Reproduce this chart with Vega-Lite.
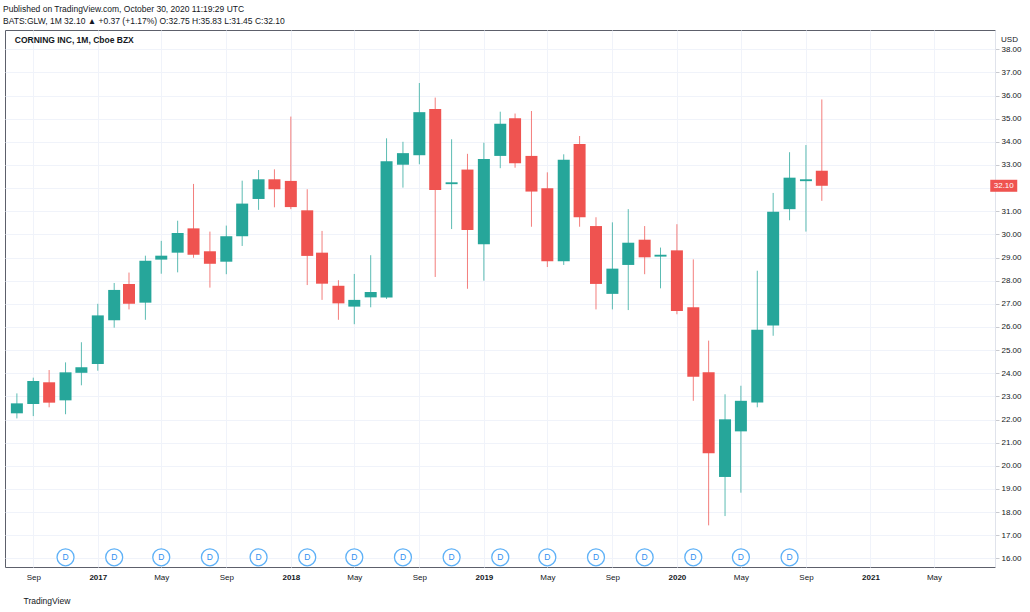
{
  "$schema": "https://vega.github.io/schema/vega-lite/v6.json",
  "width": 990,
  "height": 537,
  "autosize": {"type": "none"},
  "padding": {"left": 5, "top": 30, "right": 35, "bottom": 45},
  "background": "#ffffff",
  "title": {
    "text": "Published on TradingView.com, October 30, 2020 11:19:29 UTC",
    "subtitle": "BATS:GLW, 1M  32.10 ▲ +0.37 (+1.17%)  O:32.75  H:35.83  L:31.45  C:32.10",
    "anchor": "start",
    "frame": "group",
    "dx": -2,
    "offset": 5,
    "fontSize": 8.5,
    "fontWeight": "normal",
    "color": "#131722",
    "subtitleFontSize": 8.5,
    "subtitleColor": "#131722",
    "subtitlePadding": 3
  },
  "config": {
    "font": "Liberation Sans",
    "view": {"stroke": "#5d606b", "strokeWidth": 1},
    "text": {"font": "Liberation Sans"}
  },
  "data": {
    "values": [
      {"date": "2016-08-01", "open": 22.27, "high": 23.13, "low": 22.05, "close": 22.70},
      {"date": "2016-09-01", "open": 22.67, "high": 23.81, "low": 22.15, "close": 23.67},
      {"date": "2016-10-01", "open": 23.61, "high": 24.14, "low": 22.53, "close": 22.73},
      {"date": "2016-11-01", "open": 22.83, "high": 24.47, "low": 22.23, "close": 24.04},
      {"date": "2016-12-01", "open": 24.02, "high": 25.34, "low": 23.48, "close": 24.26},
      {"date": "2017-01-01", "open": 24.40, "high": 27.00, "low": 24.11, "close": 26.50},
      {"date": "2017-02-01", "open": 26.29, "high": 27.90, "low": 25.97, "close": 27.60},
      {"date": "2017-03-01", "open": 27.86, "high": 28.35, "low": 26.76, "close": 27.00},
      {"date": "2017-04-01", "open": 27.05, "high": 29.08, "low": 26.31, "close": 28.86},
      {"date": "2017-05-01", "open": 28.91, "high": 29.72, "low": 28.30, "close": 29.08},
      {"date": "2017-06-01", "open": 29.21, "high": 30.59, "low": 28.36, "close": 30.06},
      {"date": "2017-07-01", "open": 30.26, "high": 32.18, "low": 28.99, "close": 29.12},
      {"date": "2017-08-01", "open": 29.27, "high": 30.12, "low": 27.70, "close": 28.73},
      {"date": "2017-09-01", "open": 28.82, "high": 30.38, "low": 28.28, "close": 29.92},
      {"date": "2017-10-01", "open": 29.92, "high": 32.32, "low": 29.50, "close": 31.33},
      {"date": "2017-11-01", "open": 31.53, "high": 32.78, "low": 31.06, "close": 32.38},
      {"date": "2017-12-01", "open": 32.38, "high": 32.81, "low": 31.17, "close": 31.95},
      {"date": "2018-01-01", "open": 32.31, "high": 35.09, "low": 31.09, "close": 31.18},
      {"date": "2018-02-01", "open": 31.04, "high": 31.95, "low": 27.81, "close": 29.07},
      {"date": "2018-03-01", "open": 29.21, "high": 30.15, "low": 27.17, "close": 27.87},
      {"date": "2018-04-01", "open": 27.78, "high": 28.02, "low": 26.31, "close": 27.02},
      {"date": "2018-05-01", "open": 26.88, "high": 28.29, "low": 26.12, "close": 27.17},
      {"date": "2018-06-01", "open": 27.28, "high": 29.10, "low": 26.85, "close": 27.51},
      {"date": "2018-07-01", "open": 27.27, "high": 34.15, "low": 27.21, "close": 33.16},
      {"date": "2018-08-01", "open": 33.01, "high": 34.00, "low": 32.02, "close": 33.51},
      {"date": "2018-09-01", "open": 33.42, "high": 36.54, "low": 33.03, "close": 35.28},
      {"date": "2018-10-01", "open": 35.42, "high": 35.91, "low": 28.16, "close": 31.92},
      {"date": "2018-11-01", "open": 32.17, "high": 34.11, "low": 30.23, "close": 32.25},
      {"date": "2018-12-01", "open": 32.80, "high": 33.48, "low": 27.65, "close": 30.19},
      {"date": "2019-01-01", "open": 29.57, "high": 33.96, "low": 28.00, "close": 33.26},
      {"date": "2019-02-01", "open": 33.39, "high": 35.30, "low": 32.86, "close": 34.78},
      {"date": "2019-03-01", "open": 35.02, "high": 35.22, "low": 32.88, "close": 33.07},
      {"date": "2019-04-01", "open": 33.39, "high": 35.33, "low": 30.33, "close": 31.85},
      {"date": "2019-05-01", "open": 31.99, "high": 32.68, "low": 28.59, "close": 28.84},
      {"date": "2019-06-01", "open": 28.84, "high": 33.46, "low": 28.68, "close": 33.22},
      {"date": "2019-07-01", "open": 33.91, "high": 34.25, "low": 30.33, "close": 30.74},
      {"date": "2019-08-01", "open": 30.36, "high": 30.74, "low": 26.76, "close": 27.86},
      {"date": "2019-09-01", "open": 27.43, "high": 30.52, "low": 26.76, "close": 28.52},
      {"date": "2019-10-01", "open": 28.68, "high": 31.09, "low": 26.73, "close": 29.64},
      {"date": "2019-11-01", "open": 29.77, "high": 30.36, "low": 28.28, "close": 29.01},
      {"date": "2019-12-01", "open": 29.04, "high": 29.43, "low": 27.67, "close": 29.12},
      {"date": "2020-01-01", "open": 29.31, "high": 30.44, "low": 26.55, "close": 26.69},
      {"date": "2020-02-01", "open": 26.85, "high": 28.92, "low": 22.81, "close": 23.85},
      {"date": "2020-03-01", "open": 24.04, "high": 25.41, "low": 17.43, "close": 20.54},
      {"date": "2020-04-01", "open": 19.52, "high": 23.09, "low": 17.83, "close": 22.01},
      {"date": "2020-05-01", "open": 21.49, "high": 23.46, "low": 18.84, "close": 22.81},
      {"date": "2020-06-01", "open": 22.74, "high": 28.43, "low": 22.53, "close": 25.88},
      {"date": "2020-07-01", "open": 26.06, "high": 31.79, "low": 25.62, "close": 30.98},
      {"date": "2020-08-01", "open": 31.09, "high": 33.55, "low": 30.61, "close": 32.45},
      {"date": "2020-09-01", "open": 32.30, "high": 33.86, "low": 30.12, "close": 32.38},
      {"date": "2020-10-01", "open": 32.75, "high": 35.83, "low": 31.45, "close": 32.10}
    ],
    "format": {"parse": {"date": "date"}}
  },
  "layer": [
    {
      "mark": {"type": "rule", "strokeWidth": 1, "opacity": 0.75},
      "encoding": {
        "x": {
          "field": "date",
          "type": "temporal",
          "scale": {
            "type": "utc",
            "domain": [
              {"year": 2016, "month": 7, "date": 19, "utc": true},
              {"year": 2021, "month": 8, "date": 15, "utc": true}
            ]
          },
          "axis": {
            "title": "TradingView",
            "titleAnchor": "start",
            "titleAlign": "left",
            "titleBaseline": "middle",
            "titleX": 18,
            "titleY": 33,
            "titleFontSize": 8.5,
            "titleFontWeight": "normal",
            "titleColor": "#131722",
            "values": [
              {"year": 2016, "month": 9, "date": 1, "utc": true},
              {"year": 2017, "month": 1, "date": 1, "utc": true},
              {"year": 2017, "month": 5, "date": 1, "utc": true},
              {"year": 2017, "month": 9, "date": 1, "utc": true},
              {"year": 2018, "month": 1, "date": 1, "utc": true},
              {"year": 2018, "month": 5, "date": 1, "utc": true},
              {"year": 2018, "month": 9, "date": 1, "utc": true},
              {"year": 2019, "month": 1, "date": 1, "utc": true},
              {"year": 2019, "month": 5, "date": 1, "utc": true},
              {"year": 2019, "month": 9, "date": 1, "utc": true},
              {"year": 2020, "month": 1, "date": 1, "utc": true},
              {"year": 2020, "month": 5, "date": 1, "utc": true},
              {"year": 2020, "month": 9, "date": 1, "utc": true},
              {"year": 2021, "month": 1, "date": 1, "utc": true},
              {"year": 2021, "month": 5, "date": 1, "utc": true}
            ],
            "labelExpr": "utcmonth(datum.value) == 0 ? utcFormat(datum.value, '%Y') : utcFormat(datum.value, '%b')",
            "labelFontWeight": {"condition": {"test": "utcmonth(datum.value) == 0", "value": "bold"}, "value": "normal"},
            "labelFontSize": 8,
            "labelColor": "#131722",
            "labelPadding": 6,
            "labelFlush": false,
            "labelOverlap": false,
            "ticks": false,
            "domain": false,
            "grid": true,
            "gridColor": "#f0f3fa",
            "gridWidth": 1
          }
        },
        "y": {
          "field": "low",
          "type": "quantitative",
          "scale": {"domain": [15.63, 38.83], "nice": false, "zero": false},
          "axis": {
            "orient": "right",
            "title": "USD",
            "titleAngle": 0,
            "titleX": 14,
            "titleY": 9,
            "titleAlign": "center",
            "titleBaseline": "middle",
            "titleFontSize": 8,
            "titleFontWeight": "normal",
            "titleColor": "#131722",
            "values": [16, 17, 18, 19, 20, 21, 22, 23, 24, 25, 26, 27, 28, 29, 30, 31, 32, 33, 34, 35, 36, 37, 38],
            "tickCount": 23,
            "labelExpr": "datum.value == 32 ? '' : format(datum.value, '.2f')",
            "labelFontSize": 8,
            "labelColor": "#131722",
            "labelAlign": "left",
            "labelBaseline": "middle",
            "labelPadding": 2,
            "labelOverlap": false,
            "labelFlush": false,
            "tickSize": 4,
            "tickColor": "#c8cad0",
            "domain": true,
            "domainColor": "#e0e3eb",
            "grid": true,
            "gridColor": "#f0f3fa",
            "gridWidth": 1
          }
        },
        "y2": {"field": "high"},
        "color": {
          "condition": {"test": "datum.close >= datum.open", "value": "#26a69a"},
          "value": "#ef5350"
        }
      }
    },
    {
      "mark": {"type": "bar", "size": 12},
      "encoding": {
        "x": {"field": "date", "type": "temporal"},
        "y": {
          "field": "open",
          "type": "quantitative",
          "axis": {
            "orient": "right",
            "title": "USD",
            "titleAngle": 0,
            "titleX": 14,
            "titleY": 9,
            "titleAlign": "center",
            "titleBaseline": "middle",
            "titleFontSize": 8,
            "titleFontWeight": "normal",
            "titleColor": "#131722",
            "values": [16, 17, 18, 19, 20, 21, 22, 23, 24, 25, 26, 27, 28, 29, 30, 31, 32, 33, 34, 35, 36, 37, 38],
            "tickCount": 23,
            "labelExpr": "datum.value == 32 ? '' : format(datum.value, '.2f')",
            "labelFontSize": 8,
            "labelColor": "#131722",
            "labelAlign": "left",
            "labelBaseline": "middle",
            "labelPadding": 2,
            "labelOverlap": false,
            "labelFlush": false,
            "tickSize": 4,
            "tickColor": "#c8cad0",
            "domain": true,
            "domainColor": "#e0e3eb",
            "grid": true,
            "gridColor": "#f0f3fa",
            "gridWidth": 1
          }
        },
        "y2": {"field": "close"},
        "color": {
          "condition": {"test": "datum.close >= datum.open", "value": "#26a69a"},
          "value": "#ef5350"
        }
      }
    },
    {
      "data": {
        "values": [
          {"date": "2016-11-01", "event": "D"},
          {"date": "2017-02-01", "event": "D"},
          {"date": "2017-05-01", "event": "D"},
          {"date": "2017-08-01", "event": "D"},
          {"date": "2017-11-01", "event": "D"},
          {"date": "2018-02-01", "event": "D"},
          {"date": "2018-05-01", "event": "D"},
          {"date": "2018-08-01", "event": "D"},
          {"date": "2018-11-01", "event": "D"},
          {"date": "2019-02-01", "event": "D"},
          {"date": "2019-05-01", "event": "D"},
          {"date": "2019-08-01", "event": "D"},
          {"date": "2019-11-01", "event": "D"},
          {"date": "2020-02-01", "event": "D"},
          {"date": "2020-05-01", "event": "D"},
          {"date": "2020-08-01", "event": "D"}
        ],
        "format": {"parse": {"date": "date"}}
      },
      "layer": [
        {
          "mark": {"type": "point", "shape": "circle", "size": 289, "filled": true, "fill": "#ffffff", "stroke": "#5eb1f7", "strokeWidth": 1.3, "opacity": 1},
          "encoding": {
            "x": {"field": "date", "type": "temporal"},
            "y": {"datum": 16.05, "type": "quantitative"}
          }
        },
        {
          "mark": {"type": "text", "fontSize": 8.5, "color": "#2f8ff0", "baseline": "middle", "align": "center"},
          "encoding": {
            "x": {"field": "date", "type": "temporal"},
            "y": {"datum": 16.05, "type": "quantitative"},
            "text": {"field": "event"}
          }
        }
      ]
    },
    {
      "data": {"values": [{"label": "CORNING INC, 1M, Cboe BZX"}]},
      "mark": {"type": "text", "fontSize": 8.5, "fontWeight": "bold", "color": "#131722", "align": "left", "baseline": "middle"},
      "encoding": {
        "x": {"datum": {"year": 2016, "month": 7, "date": 28, "utc": true}, "type": "temporal"},
        "y": {"datum": 38.4, "type": "quantitative"},
        "text": {"field": "label"}
      }
    },
    {
      "transform": [{"filter": "utcyear(datum.date) == 2020 && utcmonth(datum.date) == 9"}],
      "layer": [
        {
          "mark": {"type": "tick", "orient": "horizontal", "size": 27, "thickness": 12, "color": "#ef5350", "opacity": 1, "clip": false},
          "encoding": {
            "x": {"datum": {"year": 2021, "month": 9, "date": 10, "utc": true}, "type": "temporal"},
            "y": {"field": "close", "type": "quantitative"}
          }
        },
        {
          "mark": {"type": "text", "fontSize": 8, "color": "#ffffff", "align": "center", "baseline": "middle", "clip": false},
          "encoding": {
            "x": {"datum": {"year": 2021, "month": 9, "date": 10, "utc": true}, "type": "temporal"},
            "y": {"field": "close", "type": "quantitative"},
            "text": {"field": "close", "type": "quantitative", "format": ".2f"}
          }
        }
      ]
    }
  ]
}
